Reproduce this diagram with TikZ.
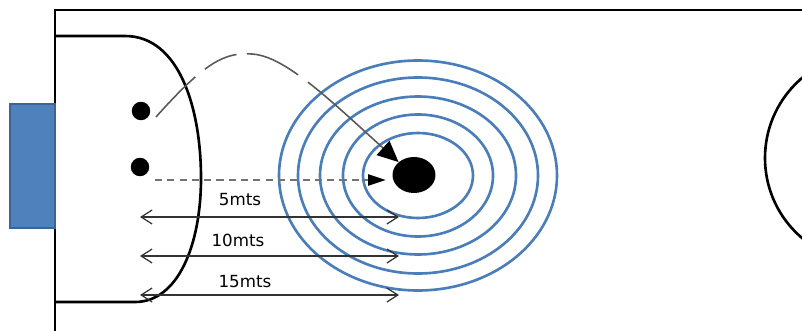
\documentclass[tikz,border=0pt]{standalone}
\usepackage{fontspec}
\setmainfont{DejaVu Sans}
\usetikzlibrary{arrows.meta,shapes.geometric}
\definecolor{ringblue}{HTML}{4A7EBB}
\definecolor{goalblue}{HTML}{4F81BD}
\definecolor{goaledge}{HTML}{3C6496}

\begin{document}
\begin{tikzpicture}[x=0.02cm,y=-0.02cm,
  dot/.style={circle,fill=black,inner sep=0pt,minimum size=0.37cm},
  ring/.style={draw=ringblue,line width=1.5pt},
  lobline/.style={draw=black!65,line width=0.9pt,
    dash pattern=on 32pt off 7pt on 20pt off 6pt on 32pt off 7pt on 140pt},
  shotline/.style={draw=black!55,line width=1.4pt,dash pattern=on 4pt off 3pt},
  dim/.style={draw=black!80,line width=0.7pt,
    {Straight Barb[length=0.22cm,width=0.28cm]}-{Straight Barb[length=0.22cm,width=0.28cm]}},
  dimlabel/.style={font=\fontsize{9.5}{11}\selectfont,inner sep=0pt}]
\useasboundingbox (0,0) rectangle (802,331);

% pitch lines
\draw[line width=1.5pt] (55,331) -- (55,10) -- (802,10);
\draw[fill=goalblue,draw=goaledge,line width=0.6pt] (10,104) rectangle (55,228);
\draw[line width=1.5pt] (55,36) -- (125,36) .. controls (180,36) and (201,110) .. (201,178)
  .. controls (201,245) and (178,302) .. (135,302) -- (55,302);
\begin{scope}
\clip (0,0) rectangle (802,331);
\draw[line width=1.5pt] (870,158) circle [radius=105];
\end{scope}

% target
\foreach \rx/\ry in {55/42.5,75/61,98/79,120/98,139/115}
  \draw[ring] (418,175.5) ellipse [x radius=\rx, y radius=\ry];
\node[ellipse,fill=black,inner sep=0pt,minimum width=0.86cm,minimum height=0.72cm] (ball) at (414,175) {};

% players
\node[dot] (p1) at (141,111) {};
\node[dot] (p2) at (140,167) {};
\coordinate (lob) at (156,117);
\coordinate (shot) at (155,180);
\coordinate (aim) at (386,180);

\draw[lobline,-{Triangle[length=0.42cm,width=0.38cm,color=black]}] (lob) .. controls (205,62) and (225,52) .. (252,54)
  .. controls (285,56) and (330,100) .. (ball.140);
\draw[shotline,-{Triangle[length=0.36cm,width=0.22cm,color=black]}] (shot) -- (aim);

% distances
\foreach \n/\y/\lx/\ly in {5/217/240/200,10/256/238/240,15/295/245/282}{
  \coordinate (l\n) at (140,\y);
  \coordinate (r\n) at (399,\y);
  \draw[dim] (l\n) -- (r\n);
  \node[dimlabel] (t\n) at (\lx,\ly) {\n mts};
}
\end{tikzpicture}
\end{document}
